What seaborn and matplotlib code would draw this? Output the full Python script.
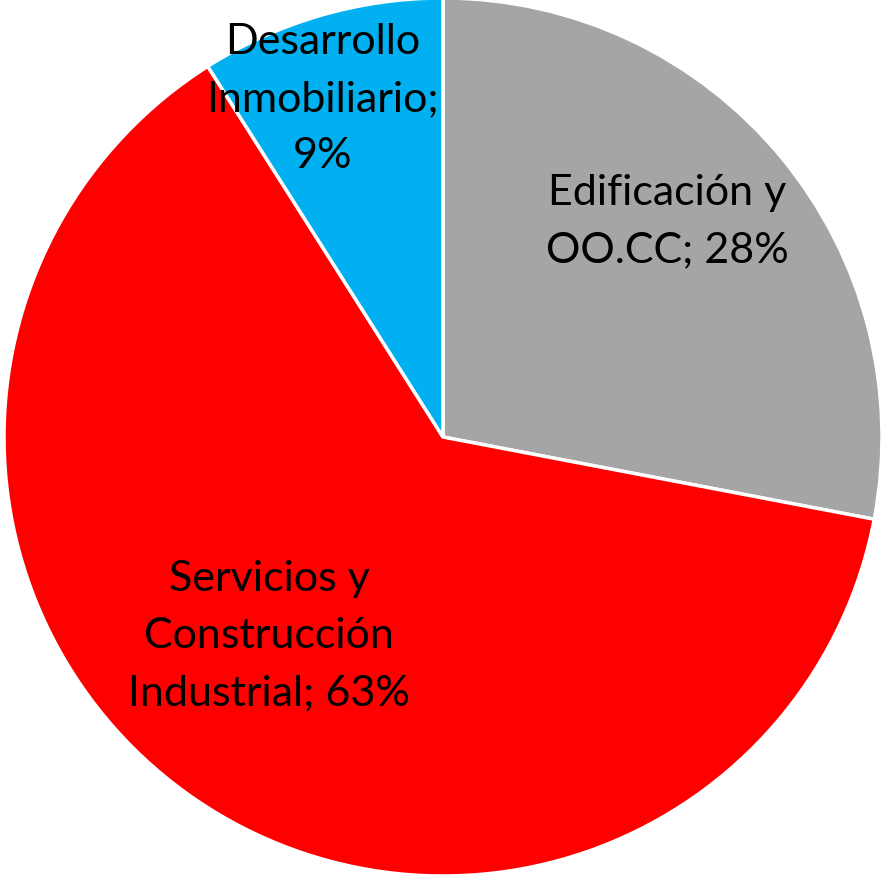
import matplotlib
matplotlib.use("Agg")
import matplotlib.pyplot as plt
import seaborn as sns
import numpy as np

categories = ["Edificación y\nOO.CC", "Servicios y\nConstrucción\nIndustrial", "Desarrollo\nInmobiliario"]
values = [28, 63, 9]
colors = ["#A5A5A5", "#FF0000", "#00B0F0"]
separators = ["; ", "; ", ";\n"]

sns.set_theme(style="white")
plt.rcParams['font.family'] = ['Lato', 'DejaVu Sans']

W, H = 884, 879
fig = plt.figure(figsize=(W / 100, H / 100), dpi=100)
ax = fig.add_axes([0, 0, 1, 1])
R = 439.0
cx, cy = 443.0, 441.0  # center in pixels from bottom-left

labels = [f"{c}{s}{v}%" for c, s, v in zip(categories, separators, values)]
wedges, texts = ax.pie(values, colors=colors, startangle=90, counterclock=False,
                       radius=1.0, labels=labels, labeldistance=0.7,
                       wedgeprops=dict(edgecolor="white", linewidth=2.5),
                       textprops=dict(fontsize=31, color="black", ha="center", va="center",
                                      linespacing=1.62))
# label placement (fraction of radius, angle in degrees)
positions = [(0.71, 44.0), (0.60, 228.7), (0.82, 109.6)]
for t, (d, a) in zip(texts, positions):
    t.set_position((d * np.cos(np.radians(a)), d * np.sin(np.radians(a))))
    t.set_ha("center")
    t.set_va("center")
    t.set_multialignment("center")

ax.set_xlim(-cx / R, (W - cx) / R)
ax.set_ylim(-cy / R, (H - cy) / R)
ax.set_aspect("auto")
ax.axis("off")
fig.savefig("out.png", dpi=100, facecolor="white")
